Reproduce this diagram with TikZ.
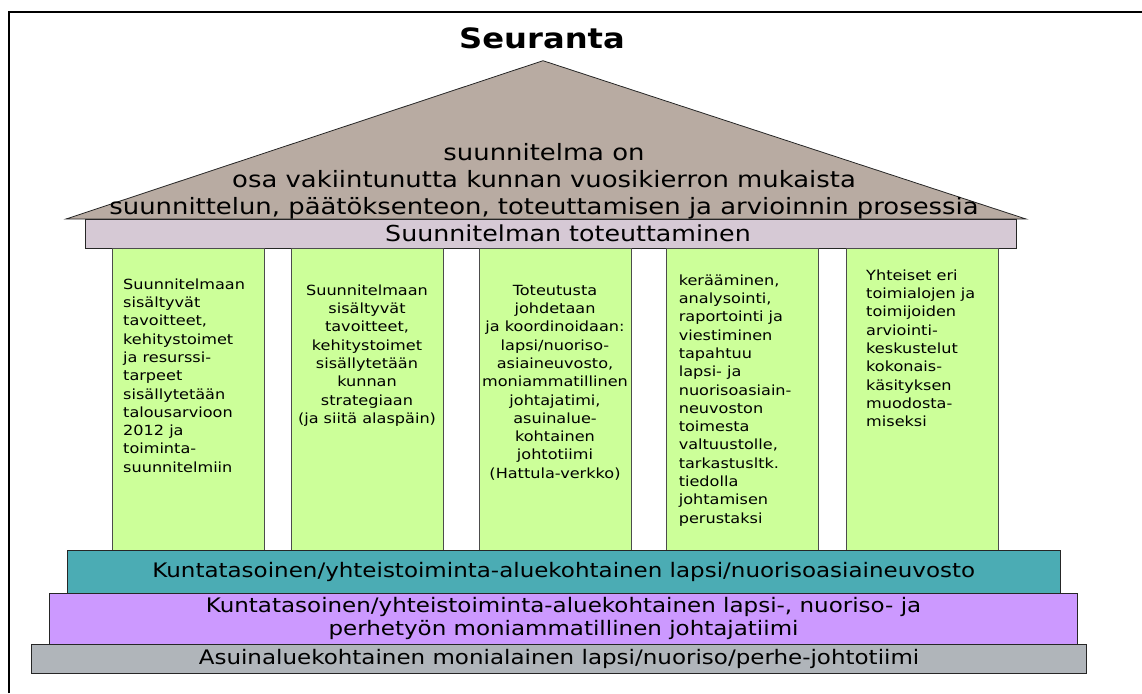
\documentclass[tikz,border=0pt]{standalone}
\usepackage{fontspec}
\setmainfont[FakeStretch=1.15]{DejaVu Sans}
\usepackage{xcolor}
\definecolor{roofgray}{RGB}{184,171,162}
\definecolor{lintelpink}{RGB}{214,201,213}
\definecolor{pillargreen}{RGB}{204,255,153}
\definecolor{councilteal}{RGB}{75,172,180}
\definecolor{teampurple}{RGB}{204,153,255}
\definecolor{areagray}{RGB}{176,181,186}

\begin{document}
\begin{tikzpicture}[x=1pt,y=-1pt,
    band/.style={draw=black!85, line width=0.8pt, inner sep=0pt, align=center,
      font=\fontsize{20}{23}\selectfont},
    pillar/.style={draw=black!70, line width=0.8pt, fill=pillargreen,
      anchor=north west, minimum width=152, minimum height=302, inner sep=0pt},
    pillartext/.style={inner sep=0pt, font=\fontsize{14}{18.3}\selectfont},
    roofline/.style={inner sep=0pt, font=\fontsize{22.5}{27}\selectfont}]

    \useasboundingbox (0,0) rectangle (1142,693);
    \clip (0,0) rectangle (1142,693);
    % frame
    \draw[line width=2pt] (8.5,693) -- (8.5,12) -- (1142,12);

    \node[font=\bfseries\fontsize{28}{32}\selectfont] (title) at (542,38) {Seuranta};

    % roof
    \filldraw[fill=roofgray, draw=black!85, line width=0.8pt]
      (66,219) -- (543,60.7) -- (1026,219) -- cycle;
    \node[band, fill=lintelpink, minimum width=931, minimum height=29] (lintel) at (550.5,233.5) {};
    \node[roofline, font=\fontsize{22}{26}\selectfont] (lintelText) at (568,233.5) {Suunnitelman toteuttaminen};
    \node[roofline, align=center, anchor=north] (roofText) at (544,143.6)
      {suunnitelma on\\
       osa vakiintunutta kunnan vuosikierron mukaista\\
       suunnittelun, päätöksenteon, toteuttamisen ja arvioinnin prosessia};

    % pillars
    \foreach \x [count=\i] in {112,291,479,666,846}
      \node[pillar] (p\i) at (\x,248) {};

    \node[pillartext, align=left, anchor=north west] (p1text) at (123,278.4)
      {Suunnitelmaan\\ sisältyvät\\ tavoitteet,\\ kehitystoimet\\ ja resurssi-\\ tarpeet\\
       sisällytetään\\ talousarvioon\\ 2012 ja\\ toiminta-\\ suunnitelmiin};
    \node[pillartext, align=center, anchor=north] (p2text) at (367,284.4)
      {Suunnitelmaan\\ sisältyvät\\ tavoitteet,\\ kehitystoimet\\ sisällytetään\\ kunnan\\
       strategiaan\\ (ja siitä alaspäin)};
    \node[pillartext, align=center, anchor=north] (p3text) at (555,284.8)
      {Toteutusta\\ johdetaan\\ ja koordinoidaan:\\ lapsi/nuoriso-\\ asiaineuvosto,\\
       moniammatillinen\\ johtajatimi,\\ asuinalue-\\ kohtainen\\ johtotiimi\\ (Hattula-verkko)};
    \node[pillartext, align=left, anchor=north west] (p4text) at (678.6,274.4)
      {kerääminen,\\ analysointi,\\ raportointi ja\\ viestiminen\\ tapahtuu\\ lapsi- ja\\
       nuorisoasiain-\\ neuvoston\\ toimesta\\ valtuustolle,\\ tarkastusltk.\\ tiedolla\\
       johtamisen\\ perustaksi};
    \node[pillartext, align=left, anchor=north west] (p5text) at (866,269.4)
      {Yhteiset eri\\ toimialojen ja\\ toimijoiden\\ arviointi-\\ keskustelut\\ kokonais-\\
       käsityksen\\ muodosta-\\ miseksi};

    % foundation
    \node[band, fill=councilteal, minimum width=992.7, minimum height=42.6] (council) at (563.7,572)
      {Kuntatasoinen/yhteistoiminta-aluekohtainen lapsi/nuorisoasiaineuvosto};
    \node[band, fill=teampurple, minimum width=1028.4, minimum height=50.7] (team) at (563.5,618.7)
      {Kuntatasoinen/yhteistoiminta-aluekohtainen lapsi-, nuoriso- ja\\
       perhetyön moniammatillinen johtajatiimi};
    \node[band, fill=areagray, minimum width=1055.4, minimum height=29.3] (area) at (559,658.7)
      {Asuinaluekohtainen monialainen lapsi/nuoriso/perhe-johtotiimi};
\end{tikzpicture}
\end{document}
